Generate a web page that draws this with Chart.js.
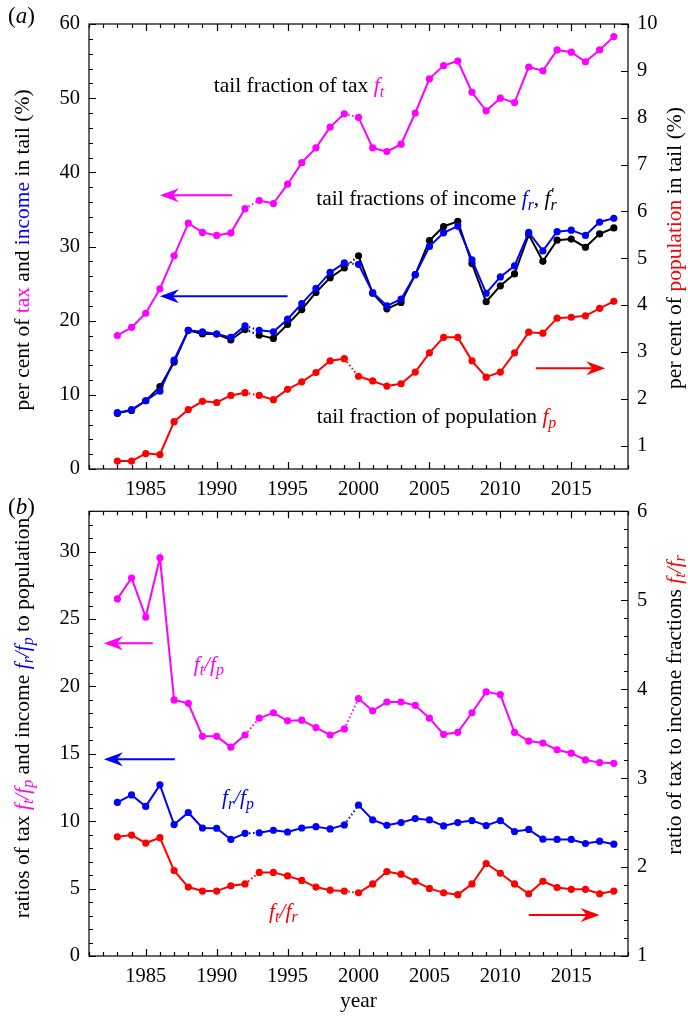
<!DOCTYPE html>
<html>
<head>
<meta charset="utf-8">
<script src="https://cdn.jsdelivr.net/npm/chart.js@4.4.1/dist/chart.umd.min.js"></script>
<style>
html, body { margin: 0; padding: 0; background: #fff; }
#wrap { position: relative; width: 688px; height: 1016px; }
canvas { position: absolute; left: 0; }
#cA { top: 0; }
#cB { top: 490px; }
</style>
</head>
<body>
<div id="wrap">
  <canvas id="cA" width="688" height="500"></canvas>
  <canvas id="cB" width="688" height="526"></canvas>
</div>
<script>
// colours and font
const MAGENTA = '#ff00ff', BLUE = '#0000ff', RED = '#ff0000', BLACK = '#000000';
const FONT = '"Liberation Serif", "Times New Roman", serif';
const TEXT_SIZE = 21.5;

// shared x data
const years = [1983, 1984, 1985, 1986, 1987, 1988, 1989, 1990, 1991, 1992, 1993, 1994,
               1995, 1996, 1997, 1998, 1999, 2000, 2001, 2002, 2003, 2004, 2005, 2006,
               2007, 2008, 2009, 2010, 2011, 2012, 2013, 2014, 2015, 2016, 2017, 2018];
const yearLabels = [1985, 1990, 1995, 2000, 2005, 2010, 2015];
const dottedFrom = [1992, 1999]; // gaps drawn dotted

// (a) tail fractions, per cent
const tailTax = [18.0, 19.1, 21.0, 24.3, 28.75, 33.15, 31.9, 31.5, 31.85, 35.1, 36.2, 35.8,
                 38.4, 41.3, 43.3, 46.1, 47.9, 47.4, 43.3, 42.8, 43.8, 48.0, 52.6, 54.4,
                 55.0, 50.8, 48.3, 50.0, 49.4, 54.2, 53.7, 56.5, 56.2, 54.9, 56.5, 58.3];
const tailIncome = [7.6, 8.0, 9.2, 10.5, 14.7, 18.7, 18.5, 18.2, 17.75, 19.3, 18.7, 18.5,
                    20.2, 22.3, 24.35, 26.5, 27.8, 27.6, 23.8, 22.0, 22.9, 26.2, 30.0, 31.85,
                    32.75, 28.2, 23.7, 25.9, 27.4, 31.9, 29.4, 32.0, 32.2, 31.5, 33.3, 33.8];
const tailIncomeAlt = [7.5, 7.9, 9.2, 11.1, 14.4, 18.7, 18.2, 18.2, 17.4, 18.8, 18.05, 17.6,
                       19.5, 21.5, 23.8, 25.8, 27.1, 28.75, 23.7, 21.6, 22.45, 26.2, 30.8, 32.7,
                       33.4, 27.7, 22.55, 24.7, 26.3, 31.6, 28.0, 30.85, 31.0, 29.9, 31.7, 32.5];
const tailPop = [0.67, 0.67, 0.83, 0.81, 1.51, 1.77, 1.945, 1.92, 2.07, 2.13, 2.07, 1.98,
                 2.20, 2.36, 2.56, 2.81, 2.855, 2.48, 2.38, 2.27, 2.32, 2.57, 2.98, 3.31,
                 3.31, 2.81, 2.46, 2.57, 2.98, 3.42, 3.40, 3.72, 3.74, 3.77, 3.93, 4.08];
const leftLabelsA = [0, 10, 20, 30, 40, 50, 60];
const rightLabelsA = [1, 2, 3, 4, 5, 6, 7, 8, 9, 10];

// (b) ratios
const ratioTaxPop = [26.5, 28.05, 25.15, 29.55, 19.0, 18.75, 16.3, 16.3, 15.5, 16.4, 17.65, 18.05,
                     17.45, 17.5, 16.95, 16.4, 16.85, 19.1, 18.2, 18.85, 18.85, 18.6, 17.65, 16.45,
                     16.6, 18.05, 19.6, 19.4, 16.6, 15.95, 15.8, 15.3, 15.05, 14.55, 14.35, 14.3];
const ratioIncPop = [11.4, 11.95, 11.1, 12.7, 9.75, 10.65, 9.5, 9.48, 8.65, 9.1, 9.14, 9.33,
                     9.2, 9.5, 9.6, 9.43, 9.73, 11.2, 10.1, 9.7, 9.9, 10.2, 10.1, 9.65,
                     9.9, 10.05, 9.68, 10.05, 9.24, 9.39, 8.67, 8.65, 8.65, 8.35, 8.52, 8.3];
const ratioTaxInc = [2.34, 2.36, 2.27, 2.33, 1.96, 1.775, 1.73, 1.73, 1.79, 1.81, 1.94, 1.94,
                     1.90, 1.85, 1.775, 1.74, 1.73, 1.71, 1.81, 1.95, 1.92, 1.84, 1.76, 1.71,
                     1.69, 1.81, 2.04, 1.93, 1.81, 1.70, 1.84, 1.77, 1.75, 1.75, 1.70, 1.73];
const leftLabelsB = [0, 5, 10, 15, 20, 25, 30];
const rightLabelsB = [1, 2, 3, 4, 5, 6];

Chart.defaults.font.family = FONT;
Chart.defaults.font.size = 20.5;
Chart.defaults.color = BLACK;

function hasVal(list, v) { return list.some(t => Math.abs(t - v) < 1e-6); }

function series(vals, color, axis) {
    return {
        data: vals.map((v, i) => ({ x: years[i], y: v })),
        yAxisID: axis,
        borderColor: color,
        backgroundColor: color,
        pointBackgroundColor: color,
        pointBorderColor: color,
        pointRadius: 3.6,
        pointBorderWidth: 0,
        borderWidth: 2,
        tension: 0,
        fill: false,
        segment: { borderDash: c => dottedFrom.includes(c.p0.parsed.x) ? [1.5, 2.5] : undefined }
    };
}

function axisX(h) {
    return {
        type: 'linear', min: 1981, max: 2019,
        grid: { display: false, drawTicks: false }, border: { display: false },
        ticks: { stepSize: 1, autoSkip: false, maxRotation: 0, padding: 8, maxTicksLimit: 1000,
                 callback: v => hasVal(yearLabels, v) ? String(v) : '' },
        afterFit: s => { s.height = h; }
    };
}

function axisY(pos, min, max, step, labels, w, bounds) {
    return {
        type: 'linear', position: pos, min: min, max: max,
        grid: { display: false, drawTicks: false }, border: { display: false },
        ticks: { stepSize: step, autoSkip: false, padding: 9, maxTicksLimit: 1000, includeBounds: bounds,
                 callback: v => hasVal(labels, v) ? String(Math.round(v)) : '' },
        afterFit: s => { s.width = w; }
    };
}

// rich text: parts of {t, c, it, sub, sup, keep}
function setFont(ctx, p, size) {
    const s = (p.sub || p.sup) ? size * 0.74 : size;
    ctx.font = (p.it ? 'italic ' : '') + s + 'px ' + FONT;
}
function drawRich(ctx, parts, x, y, size, rot, align) {
    ctx.save();
    ctx.translate(x, y);
    ctx.rotate(rot || 0);
    ctx.textBaseline = 'middle';
    ctx.textAlign = 'left';
    let w = 0;
    const widths = parts.map(p => { setFont(ctx, p, size); const m = ctx.measureText(p.t).width; if (!p.keep) w += m; return m; });
    let cx = align === 'left' ? 0 : -w / 2;
    parts.forEach((p, i) => {
        setFont(ctx, p, size);
        ctx.fillStyle = p.c || BLACK;
        const dy = p.sub ? size * 0.28 : (p.sup ? -size * 0.22 : 0);
        ctx.fillText(p.t, cx + (p.dx || 0) * size, dy);
        if (!p.keep) cx += widths[i];
    });
    ctx.restore();
}

function drawArrow(ctx, x0, x1, y, color) {
    const d = Math.sign(x1 - x0);
    ctx.save();
    ctx.strokeStyle = color; ctx.fillStyle = color; ctx.lineWidth = 2;
    ctx.beginPath(); ctx.moveTo(x0, y); ctx.lineTo(x1 - d * 8, y); ctx.stroke();
    ctx.beginPath();
    ctx.moveTo(x1, y);
    ctx.lineTo(x1 - d * 19, y - 7);
    ctx.lineTo(x1 - d * 13, y);
    ctx.lineTo(x1 - d * 19, y + 7);
    ctx.closePath(); ctx.fill();
    ctx.restore();
}

function ratio(a, b, c) {
    return [{ t: 'f', it: 1, c: c }, { t: a, it: 1, sub: 1, c: c }, { t: '/', it: 1, c: c },
            { t: 'f', it: 1, c: c }, { t: b, it: 1, sub: 1, c: c }];
}

// frame with inward ticks
function framePlugin(majors) {
    return {
        id: 'frame',
        afterDatasetsDraw(chart) {
            const { ctx, chartArea: a } = chart;
            ctx.save();
            ctx.strokeStyle = BLACK; ctx.lineWidth = 1.2;
            ctx.strokeRect(a.left, a.top, a.right - a.left, a.bottom - a.top);
            ctx.beginPath();
            Object.keys(chart.scales).forEach(id => {
                const s = chart.scales[id];
                s.ticks.forEach(t => {
                    const L = hasVal(majors[id], t.value) ? 7 : 4;
                    const p = Math.round(s.getPixelForValue(t.value)) + 0.5;
                    if (id === 'x') {
                        ctx.moveTo(p, a.bottom); ctx.lineTo(p, a.bottom - L);
                        ctx.moveTo(p, a.top); ctx.lineTo(p, a.top + L);
                    } else if (s.position === 'left') {
                        ctx.moveTo(a.left, p); ctx.lineTo(a.left + L, p);
                    } else {
                        ctx.moveTo(a.right, p); ctx.lineTo(a.right - L, p);
                    }
                });
            });
            ctx.stroke();
            ctx.restore();
        }
    };
}

function decoPlugin(cfg) {
    return {
        id: 'deco',
        afterDraw(chart) {
            const { ctx, chartArea: a, scales } = chart;
            cfg.labels.forEach(l => drawRich(ctx, l.parts, scales.x.getPixelForValue(l.x), scales[l.axis].getPixelForValue(l.y), TEXT_SIZE));
            cfg.arrows.forEach(r => drawArrow(ctx, scales.x.getPixelForValue(r.x0), scales.x.getPixelForValue(r.x1), scales[r.axis].getPixelForValue(r.y), r.c));
            drawRich(ctx, cfg.leftTitle, 23, cfg.leftTitleY, TEXT_SIZE, -Math.PI / 2);
            drawRich(ctx, cfg.rightTitle, 675, cfg.rightTitleY, TEXT_SIZE, -Math.PI / 2);
            drawRich(ctx, cfg.panel, 8, cfg.panelY, 23, 0, 'left');
            if (cfg.xTitle) drawRich(ctx, [{ t: cfg.xTitle }], (a.left + a.right) / 2, cfg.xTitleY, TEXT_SIZE);
        }
    };
}

function baseOptions(top, xh, yl, yr) {
    return {
        responsive: false, animation: false,
        layout: { padding: { top: top, left: 0, right: 0, bottom: 0 } },
        plugins: { legend: { display: false }, tooltip: { enabled: false } },
        scales: { x: axisX(xh), yL: yl, yR: yr }
    };
}

// panel (a)
new Chart(document.getElementById('cA'), {
    type: 'line',
    data: { datasets: [
        series(tailTax, MAGENTA, 'yL'),
        series(tailIncome, BLUE, 'yL'),
        series(tailIncomeAlt, BLACK, 'yL'),
        series(tailPop, RED, 'yR')
    ] },
    options: baseOptions(24, 31,
        axisY('left', 0, 60, 2, leftLabelsA, 89, true),
        axisY('right', 0.5, 10, 1, rightLabelsA, 60, false)),
    plugins: [framePlugin({ x: yearLabels, yL: leftLabelsA, yR: rightLabelsA }), decoPlugin({
        labels: [
            { x: 1995.8, y: 51.6, axis: 'yL', parts: [{ t: 'tail fraction of tax ' }, { t: 'f', it: 1, c: MAGENTA }, { t: 't', it: 1, sub: 1, c: MAGENTA }] },
            { x: 2005.5, y: 36.3, axis: 'yL', parts: [{ t: 'tail fractions of income ' }, { t: 'f', it: 1, c: BLUE }, { t: 'r', it: 1, sub: 1, c: BLUE }, { t: ', ' }, { t: 'f', it: 1 }, { t: "'", sup: 1, keep: 1, dx: 0.05 }, { t: 'r', it: 1, sub: 1 }] },
            { x: 2005.5, y: 6.9, axis: 'yL', parts: [{ t: 'tail fraction of population ' }, { t: 'f', it: 1, c: RED }, { t: 'p', it: 1, sub: 1, c: RED }] }
        ],
        arrows: [
            { x0: 1991.1, x1: 1986.0, y: 36.9, axis: 'yL', c: MAGENTA },
            { x0: 1995.0, x1: 1986.0, y: 23.3, axis: 'yL', c: BLUE },
            { x0: 2012.5, x1: 2017.4, y: 13.6, axis: 'yL', c: RED }
        ],
        leftTitle: [{ t: 'per cent of ' }, { t: 'tax', c: MAGENTA }, { t: ' and ' }, { t: 'income', c: BLUE }, { t: ' in tail (%)' }],
        leftTitleY: 250,
        rightTitle: [{ t: 'per cent of ' }, { t: 'population', c: RED }, { t: ' in tail (%)' }],
        rightTitleY: 248,
        panel: [{ t: '(' }, { t: 'a', it: 1 }, { t: ')' }],
        panelY: 17
    })]
});

// panel (b)
new Chart(document.getElementById('cB'), {
    type: 'line',
    data: { datasets: [
        series(ratioTaxPop, MAGENTA, 'yL'),
        series(ratioIncPop, BLUE, 'yL'),
        series(ratioTaxInc, RED, 'yR')
    ] },
    options: baseOptions(19, 60,
        axisY('left', 0, 33, 1, leftLabelsB, 89, true),
        axisY('right', 1, 6, 0.2, rightLabelsB, 60, true)),
    plugins: [framePlugin({ x: yearLabels, yL: leftLabelsB, yR: rightLabelsB }), decoPlugin({
        labels: [
            { x: 1989.45, y: 21.6, axis: 'yL', parts: ratio('t', 'p', MAGENTA) },
            { x: 1991.5, y: 11.7, axis: 'yL', parts: ratio('r', 'p', BLUE) },
            { x: 1994.7, y: 3.25, axis: 'yL', parts: ratio('t', 'r', RED) }
        ],
        arrows: [
            { x0: 1985.5, x1: 1982.05, y: 23.2, axis: 'yL', c: MAGENTA },
            { x0: 1987.05, x1: 1982.05, y: 14.6, axis: 'yL', c: BLUE },
            { x0: 2012.0, x1: 2017.0, y: 1.46, axis: 'yR', c: RED }
        ],
        leftTitle: [{ t: 'ratios of tax ' }].concat(ratio('t', 'p', MAGENTA), [{ t: ' and income ' }], ratio('r', 'p', BLUE), [{ t: ' to population' }]),
        leftTitleY: 228,
        rightTitle: [{ t: 'ratio of tax to income fractions ' }].concat(ratio('t', 'r', RED)),
        rightTitleY: 215,
        panel: [{ t: '(' }, { t: 'b', it: 1 }, { t: ')' }],
        panelY: 18,
        xTitle: 'year',
        xTitleY: 511
    })]
});
</script>
</body>
</html>
